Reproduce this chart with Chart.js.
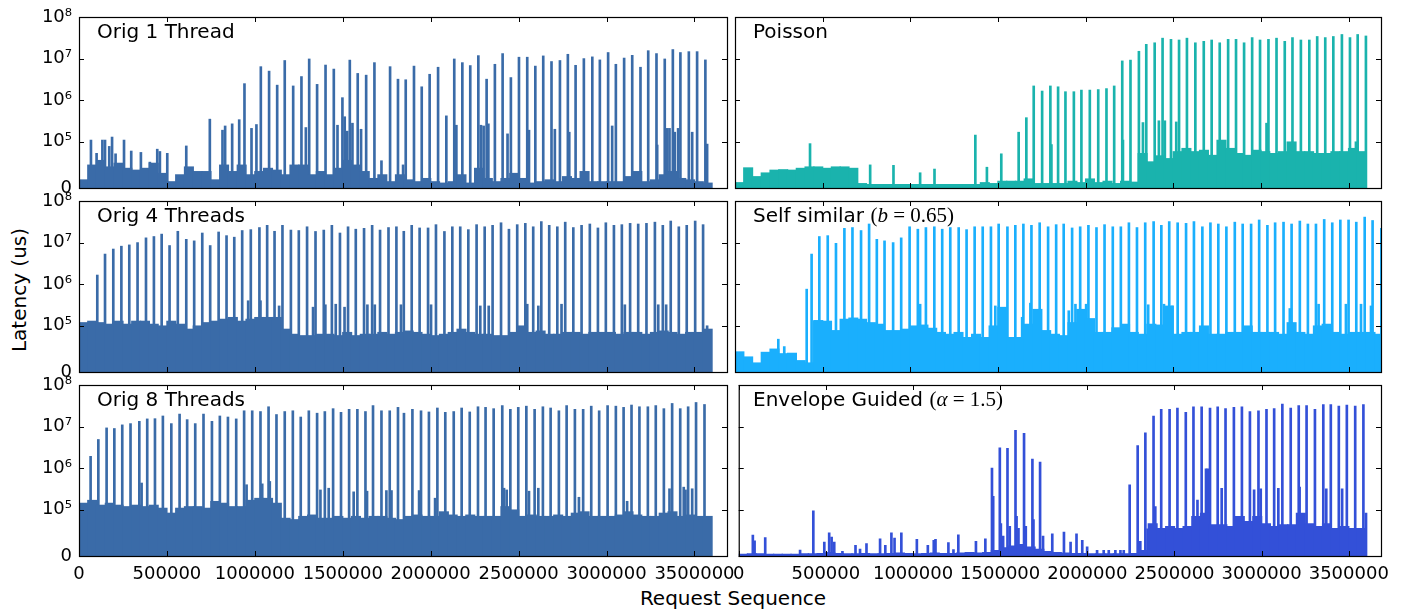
<!DOCTYPE html>
<html>
<head>
<meta charset="utf-8">
<script src="https://cdn.jsdelivr.net/npm/chart.js@4.4.0/dist/chart.umd.min.js"></script>
<style>
  body { margin: 0; background: #fff; width: 1408px; height: 614px; overflow: hidden; position: relative; font-family: "DejaVu Sans", sans-serif; }
  canvas { position: absolute; }
  .ttl { position: absolute; font-size: 20px; line-height: 20px; color: #000; white-space: nowrap; }
  .m { font-family: "Liberation Serif", serif; font-size: 21px; }
  .lbl { position: absolute; font-size: 20px; line-height: 1; color: #000; white-space: nowrap; transform: translate(-50%, -50%); }
</style>
</head>
<body>
<div class="lbl" style="left:19px;top:290px;transform:translate(-50%,-50%) rotate(-90deg)">Latency (us)</div>
<div class="lbl" style="left:733px;top:598px">Request Sequence</div>
<script>
// axes
const xTicks = [0, 500000, 1000000, 1500000, 2000000, 2500000, 3000000, 3500000]
const yTickValues = [0, 1e5, 1e6, 1e7, 1e8]
const yTickLabels = ['0', '10⁵', '10⁶', '10⁷', '10⁸']
const xMax = 3685000
const noiseStep = 50000   // background latency read per 50k requests

// Orig 1 Thread: [request, latency us]
const orig1Spikes = [
  [68e3,1.1e5],[100e3,7.5e4],[133e3,1.1e5],[148e3,1.1e5],[172e3,9e4],[188e3,1.3e5],[208e3,7.4e4],[256e3,1.1e5],
  [297e3,8e4],[352e3,7.7e4],[403e3,5.6e4],[445e3,8.4e4],[460e3,7.9e4],[502e3,7.5e4],[610e3,9.1e4],[744e3,3.5e5],
  [816e3,1.9e5],[831e3,2.4e5],[871e3,2.7e5],[911e3,3.4e5],[941e3,2.5e6],[981e3,2.1e5],[1009e3,2.6e5],[1034e3,6.4e6],
  [1081e3,5.0e6],[1127e3,2.3e6],[1170e3,9.0e6],[1218e3,2.2e6],[1265e3,3.7e6],[1290e3,2.2e5],[1309e3,9.8e6],[1354e3,2.4e6],
  [1402e3,7.0e6],[1449e3,5.6e6],[1470e3,2.5e5],[1498e3,1.15e6],[1511e3,4.0e5],[1525e3,1.8e5],[1540e3,9.2e6],[1555e3,2.8e5],
  [1585e3,4.4e6],[1604e3,2.0e5],[1633e3,4.0e6],[1680e3,8.0e6],[1720e3,5.9e4],[1769e3,6.4e6],[1814e3,3.2e6],[1843e3,5e4],
  [1858e3,3.1e6],[1905e3,6.6e6],[1949e3,2.1e6],[1994e3,4.2e6],[2042e3,6.2e6],[2089e3,4.2e5],[2134e3,9.8e6],[2146e3,2.5e5],
  [2180e3,8.0e6],[2225e3,6.8e6],[2271e3,1.18e7],[2286e3,2.5e5],[2301e3,2.4e5],[2318e3,3.2e6],[2328e3,2.7e5],[2365e3,7.3e6],
  [2409e3,1.32e7],[2437e3,1.55e5],[2456e3,3.5e6],[2502e3,1.08e7],[2549e3,1.08e7],[2559e3,1.9e5],[2595e3,6.6e6],[2640e3,1.16e7],
  [2687e3,8.5e6],[2706e3,2.0e5],[2735e3,9.0e6],[2780e3,1.27e7],[2788e3,1.7e5],[2824e3,6.9e6],[2871e3,1.0e7],[2919e3,1.1e7],
  [2962e3,9.3e6],[3009e3,1.4e7],[3032e3,2.4e5],[3053e3,7.3e6],[3100e3,1.03e7],[3146e3,1.2e7],[3193e3,6.2e6],[3237e3,1.55e7],
  [3284e3,1.32e7],[3288e3,9.3e4],[3331e3,9.8e6],[3345e3,2.1e5],[3358e3,2.1e5],[3377e3,1.65e7],[3388e3,1.7e5],[3407e3,2.1e5],
  [3420e3,1.4e7],[3468e3,1.47e7],[3487e3,1.7e5],[3515e3,1.47e7],[3562e3,9.3e6],[3572e3,9.5e4]
]
const orig1Noise = [
  1.8e4,5e4,6e4,4.6e4,5.4e4,4.3e4,3.9e4,4.3e4,5.4e4,3.2e4,
  1.4e4,2.9e4,4.6e4,3.6e4,3.6e4,1.8e4,5e4,3.6e4,5e4,2.9e4,
  3.6e4,4.3e4,3.9e4,2.9e4,5e4,5e4,2.9e4,3.6e4,2.9e4,4.3e4,
  6e4,5e4,3.6e4,2.1e4,2.9e4,1.4e4,2.9e4,1.8e4,1.4e4,2.1e4,
  1.4e4,1.1e4,1.4e4,2.9e4,1.1e4,4.3e4,2.1e4,1.4e4,2.1e4,3.2e4,
  2.1e4,1.1e4,1.4e4,1.8e4,1.4e4,2.5e4,2.1e4,3.6e4,1.4e4,1.4e4,
  1.4e4,1.4e4,2.5e4,3.6e4,1.4e4,1.8e4,2.9e4,3.6e4,2.1e4,1.8e4,
  1.4e4,1.1e4
]

// Orig 4 Threads
const orig4Spikes = [
  [104e3,1.66e6],[148e3,5.3e6],[195e3,7.0e6],[241e3,8.2e6],[286e3,8.8e6],[333e3,1.0e7],[381e3,1.3e7],[426e3,1.4e7],
  [470e3,1.6e7],[515e3,8.5e6],[562e3,1.87e7],[610e3,1.2e7],[655e3,1.1e7],[701e3,1.7e7],[746e3,8.5e6],[794e3,1.8e7],
  [839e3,1.47e7],[883e3,1.35e7],[928e3,1.95e7],[962e3,4e5],[977e3,2.05e7],[1026e3,2.3e7],[1032e3,4e5],[1070e3,2.6e7],
  [1112e3,1.87e7],[1138e3,3e5],[1157e3,2.6e7],[1205e3,2.0e7],[1250e3,1.95e7],[1297e3,2.4e7],[1331e3,2.8e5],[1345e3,1.85e7],
  [1392e3,2.0e7],[1401e3,3.2e5],[1438e3,2.6e7],[1460e3,3.3e5],[1484e3,1.7e7],[1510e3,2.8e5],[1530e3,2.4e7],[1574e3,2.1e7],
  [1621e3,2.2e7],[1640e3,3.2e5],[1667e3,2.6e7],[1682e3,3.2e5],[1712e3,2.0e7],[1760e3,2.3e7],[1805e3,2.4e7],[1831e3,3.2e5],
  [1847e3,1.87e7],[1892e3,2.6e7],[1937e3,2.25e7],[1985e3,2.25e7],[2002e3,3.2e5],[2030e3,2.7e7],[2078e3,1.85e7],[2123e3,2.4e7],
  [2168e3,2.4e7],[2214e3,2.05e7],[2261e3,2.7e7],[2282e3,3e5],[2307e3,2.4e7],[2330e3,3e5],[2352e3,2.6e7],[2400e3,3.0e7],
  [2445e3,2.1e7],[2492e3,2.7e7],[2538e3,2.9e7],[2549e3,3.3e5],[2583e3,2.4e7],[2612e3,3e5],[2629e3,3.2e7],[2674e3,2.6e7],
  [2720e3,2.4e7],[2744e3,3.3e5],[2765e3,3.1e7],[2811e3,2.3e7],[2858e3,2.6e7],[2905e3,2.8e7],[2951e3,2.25e7],[2996e3,3.0e7],
  [3042e3,2.6e7],[3087e3,2.7e7],[3104e3,3.2e5],[3134e3,2.9e7],[3180e3,2.8e7],[3227e3,2.9e7],[3275e3,3.1e7],[3294e3,3.2e5],
  [3320e3,2.6e7],[3339e3,3.2e5],[3365e3,3.3e7],[3411e3,2.4e7],[3456e3,2.6e7],[3504e3,3.3e7],[3549e3,2.7e7],[3572e3,1e5]
]
const orig4Noise = [
  1.2e5,1.3e5,1.2e5,1.1e5,1.3e5,1.1e5,1.3e5,1.3e5,1.1e5,1.0e5,
  1.3e5,1.1e5,9.3e4,1.0e5,1.2e5,1.3e5,1.45e5,1.6e5,1.3e5,1.45e5,
  1.6e5,1.6e5,1.6e5,9.3e4,8.2e4,7.9e4,7.9e4,8.2e4,8.2e4,7.9e4,
  8.6e4,7.9e4,8.2e4,8.2e4,8.6e4,8.2e4,8.6e4,8.9e4,8.6e4,8.2e4,
  7.9e4,8.2e4,8.6e4,9.3e4,8.6e4,8.2e4,8.2e4,7.9e4,7.9e4,8.6e4,
  1.0e5,8.6e4,8.9e4,8.2e4,8.2e4,8.6e4,8.6e4,8.2e4,8.6e4,8.6e4,
  8.6e4,8.2e4,8.6e4,8.6e4,8.2e4,8.6e4,8.9e4,8.6e4,8.2e4,8.6e4,
  8.6e4,9.3e4
]

// Orig 8 Threads
const orig8Spikes = [
  [66e3,1.93e6],[110e3,4.9e6],[157e3,9.3e6],[201e3,9.0e6],[246e3,1.1e7],[293e3,1.18e7],[343e3,1.34e7],[356e3,4.4e5],
  [388e3,1.53e7],[432e3,1.55e7],[477e3,1.8e7],[525e3,1.18e7],[572e3,2.0e7],[615e3,1.47e7],[661e3,1.18e7],[708e3,2.0e7],
  [756e3,1.34e7],[801e3,1.8e7],[847e3,1.7e7],[894e3,1.53e7],[939e3,2.4e7],[953e3,4e5],[985e3,2.4e7],[1032e3,2.3e7],
  [1042e3,4.2e5],[1078e3,3.0e7],[1085e3,4.8e5],[1123e3,1.95e7],[1170e3,2.3e7],[1216e3,2.4e7],[1261e3,1.7e7],[1307e3,2.4e7],
  [1354e3,2.1e7],[1373e3,3e5],[1398e3,2.3e7],[1420e3,3.3e5],[1445e3,2.7e7],[1490e3,2.2e7],[1536e3,2.6e7],[1562e3,2.7e5],
  [1583e3,2.6e7],[1629e3,2.3e7],[1638e3,2.8e5],[1672e3,3.2e7],[1720e3,2.4e7],[1748e3,2.9e5],[1767e3,2.4e7],[1777e3,2.9e5],
  [1814e3,2.9e7],[1848e3,2.1e7],[1896e3,2.6e7],[1934e3,2.9e5],[1945e3,2.4e7],[1990e3,2.25e7],[2025e3,1.9e5],[2038e3,2.8e7],
  [2083e3,2.2e7],[2131e3,2.3e7],[2176e3,2.8e7],[2222e3,2.25e7],[2269e3,3.0e7],[2312e3,2.9e7],[2358e3,2.7e7],[2407e3,3.2e7],
  [2417e3,3.3e5],[2432e3,3e5],[2453e3,2.6e7],[2498e3,2.9e7],[2544e3,3.1e7],[2559e3,2.8e5],[2591e3,2.6e7],[2612e3,3.3e5],
  [2638e3,3.0e7],[2682e3,2.8e7],[2729e3,2.4e7],[2773e3,3.2e7],[2820e3,2.6e7],[2843e3,2e5],[2867e3,2.6e7],[2913e3,3.1e7],
  [2958e3,2.4e7],[3006e3,3.2e7],[3053e3,3.1e7],[3097e3,2.9e7],[3117e3,1.6e5],[3142e3,3.3e7],[3187e3,3.0e7],[3235e3,3.0e7],
  [3280e3,3.2e7],[3326e3,2.7e7],[3358e3,3.2e5],[3373e3,3.6e7],[3419e3,2.7e7],[3439e3,3.5e5],[3449e3,3e5],[3464e3,3.0e7],
  [3487e3,3.2e5],[3509e3,3.8e7],[3557e3,3.4e7]
]
const orig8Noise = [
  1.45e5,1.7e5,1.3e5,1.45e5,1.3e5,1.2e5,1.3e5,1.2e5,1.3e5,1.1e5,
  9.3e4,1.1e5,1.2e5,1.2e5,1.1e5,1.6e5,1.45e5,1.2e5,1.2e5,1.7e5,
  1.9e5,1.9e5,1.45e5,8.2e4,7.9e4,8.6e4,8.9e4,8.2e4,8.2e4,8.6e4,
  8.2e4,8.6e4,8.2e4,8.6e4,8.6e4,8.2e4,7.9e4,8.6e4,8.9e4,8.6e4,
  8.6e4,9.6e4,8.9e4,8.6e4,8.9e4,8.6e4,8.6e4,8.6e4,1.2e5,1.0e5,
  8.6e4,8.9e4,8.6e4,8.6e4,8.9e4,8.6e4,9.3e4,9.6e4,8.6e4,8.6e4,
  8.6e4,8.9e4,9.6e4,8.9e4,8.6e4,8.6e4,9.3e4,9.6e4,8.6e4,8.9e4,
  8.6e4,8.6e4
]

// Poisson
const poissonSpikes = [
  [428e3,9.6e4],[771e3,5e4],[904e3,4.9e4],[1056e3,3.3e4],[1138e3,4.1e4],[1371e3,1.45e5],[1437e3,4.5e4],[1519e3,7.4e4],
  [1618e3,1.7e5],[1662e3,3.8e5],[1704e3,2.2e6],[1752e3,1.66e6],[1799e3,2.2e6],[1805e3,9.4e4],[1843e3,2.1e6],[1885e3,1.6e6],
  [1933e3,1.6e6],[1976e3,1.75e6],[2024e3,1.75e6],[2072e3,1.8e6],[2119e3,1.9e6],[2163e3,2.2e6],[2209e3,8.8e6],[2213e3,1.1e5],
  [2256e3,9.2e6],[2304e3,1.5e7],[2327e3,2.9e5],[2346e3,2.2e7],[2394e3,2.4e7],[2418e3,3.2e5],[2439e3,3.1e7],[2452e3,3.2e5],
  [2487e3,2.9e7],[2517e3,3e5],[2533e3,2.8e7],[2578e3,3.1e7],[2626e3,2.4e7],[2674e3,2.6e7],[2719e3,2.8e7],[2765e3,2.4e7],
  [2813e3,2.9e7],[2858e3,2.9e7],[2904e3,2.4e7],[2950e3,3.2e7],[2995e3,2.8e7],[3032e3,2.8e5],[3043e3,2.9e7],[3089e3,3.1e7],
  [3136e3,2.6e7],[3180e3,3.2e7],[3228e3,2.8e7],[3276e3,2.8e7],[3321e3,3.4e7],[3367e3,3.2e7],[3413e3,3.4e7],[3462e3,3.8e7],
  [3508e3,3.2e7],[3542e3,1e5],[3552e3,3.8e7],[3599e3,3.5e7]
]
const poissonNoise = [
  1.2e4,4.4e4,2.5e4,3.3e4,3.9e4,4.0e4,3.9e4,4.3e4,4.6e4,4.6e4,
  4.3e4,4.6e4,4.6e4,4.3e4,1.0e4,8e3,8e3,8e3,8e3,8e3,
  8e3,8e3,8e3,8e3,8e3,8e3,8e3,8e3,1.2e4,1.0e4,
  1.5e4,1.5e4,1.5e4,2.0e4,1.0e4,1.0e4,1.0e4,1.0e4,1.5e4,1.2e4,
  2e4,1.2e4,1.5e4,1.0e4,1.5e4,1.3e4,7.5e4,5.7e4,7e4,6.4e4,
  7.9e4,8.6e4,7.9e4,8.2e4,7.1e4,1.1e5,8.6e4,7.5e4,7.1e4,8.2e4,
  7.9e4,7.5e4,7.9e4,1.0e5,7.9e4,7.9e4,7.5e4,7.5e4,7.9e4,7.9e4,
  8.6e4,7.9e4
]

// Self similar (b = 0.65)
const selfSpikes = [
  [247e3,7.1e4],[281e3,5.5e4],[409e3,7.6e5],[437e3,5.3e6],[453e3,1.3e5],[481e3,1.4e7],[529e3,1.47e7],[576e3,9.6e6],
  [624e3,2.2e7],[670e3,2.3e7],[719e3,1.95e7],[765e3,2.8e7],[809e3,1.2e7],[853e3,1.1e7],[902e3,1.0e7],[948e3,1.3e7],
  [996e3,2.4e7],[1043e3,2.1e7],[1056e3,3.3e5],[1089e3,2.3e7],[1137e3,2.4e7],[1182e3,2.1e7],[1228e3,2.3e7],[1276e3,2.3e7],
  [1321e3,2.05e7],[1367e3,2.4e7],[1413e3,2.4e7],[1460e3,2.4e7],[1485e3,3e5],[1504e3,2.8e7],[1554e3,2.4e7],[1599e3,2.6e7],
  [1638e3,1.6e5],[1645e3,2.8e7],[1685e3,3.5e5],[1691e3,2.6e7],[1738e3,3.0e7],[1786e3,2.4e7],[1832e3,2.7e7],[1875e3,2.8e7],
  [1904e3,2.3e5],[1923e3,2.25e7],[1942e3,3.3e5],[1969e3,2.4e7],[2003e3,3.3e5],[2016e3,2.6e7],[2062e3,2.3e7],[2108e3,2.7e7],
  [2155e3,2.4e7],[2201e3,2.4e7],[2247e3,3.0e7],[2293e3,2.3e7],[2340e3,3.0e7],[2357e3,3.2e5],[2388e3,3.2e7],[2432e3,2.6e7],
  [2447e3,3.3e5],[2477e3,3.2e7],[2494e3,3e5],[2525e3,3.0e7],[2573e3,2.9e7],[2618e3,3.2e7],[2666e3,2.4e7],[2712e3,3.0e7],
  [2757e3,2.8e7],[2803e3,2.4e7],[2851e3,3.1e7],[2896e3,2.8e7],[2944e3,2.8e7],[2990e3,3.5e7],[3037e3,2.6e7],[3081e3,3.0e7],
  [3129e3,3.1e7],[3165e3,2.6e5],[3175e3,2.8e7],[3222e3,3.3e7],[3268e3,2.8e7],[3314e3,2.8e7],[3329e3,3.3e5],[3361e3,3.6e7],
  [3407e3,3.0e7],[3453e3,3.5e7],[3485e3,3.3e5],[3500e3,3.5e7],[3544e3,3.1e7],[3571e3,3.3e5],[3592e3,4.1e7],[3628e3,3e5],
  [3637e3,3.4e7],[3687e3,2.2e7]
]
const selfNoise = [
  4.4e4,3.3e4,2.0e4,4.3e4,5.0e4,4.0e4,4.1e4,2.5e4,2e4,1.35e5,
  1.3e5,9e4,1.45e5,1.55e5,1.45e5,1.2e5,1.1e5,9e4,9e4,9.3e4,
  1.0e5,1.05e5,9.5e4,8.6e4,8.2e4,8.6e4,7.5e4,8.2e4,7.5e4,1.0e5,
  2.8e5,7.5e4,7.5e4,1.1e5,2.5e5,9e4,8.2e4,7.9e4,1.2e5,2.5e5,
  1.5e5,8.6e4,8.6e4,9.6e4,1.1e5,8.6e4,8.2e4,1.1e5,1.05e5,3.0e5,
  8.2e4,8.6e4,8.6e4,1.0e5,8.2e4,8.2e4,8.6e4,8.6e4,1.0e5,8.6e4,
  8.6e4,8.6e4,8.2e4,1.2e5,8.6e4,8.2e4,1.0e5,1.1e5,8.6e4,8.2e4,
  8.6e4,8.6e4,8.6e4,8.2e4
]

// Envelope Guided (alpha = 1.5)
const envSpikes = [
  [81e3,4.5e4],[91e3,3.3e4],[152e3,4e4],[352e3,1.3e4],[428e3,9.8e4],[491e3,3e4],[519e3,5e4],[533e3,4.1e4],
  [548e3,3e4],[595e3,1e4],[670e3,2.3e4],[696e3,1.5e4],[733e3,2.7e4],[811e3,3.7e4],[841e3,2.3e4],[876e3,5e4],
  [894e3,3.9e4],[933e3,5e4],[1022e3,3.6e4],[1085e3,2.3e4],[1119e3,3.4e4],[1129e3,3.6e4],[1203e3,2.9e4],[1232e3,1.4e4],
  [1260e3,4.6e4],[1361e3,3.2e4],[1415e3,3.7e4],[1453e3,1e6],[1460e3,2.1e5],[1498e3,3.1e6],[1504e3,7e4],[1517e3,4.3e4],
  [1542e3,3e6],[1555e3,6.4e4],[1588e3,8.1e6],[1594e3,8.6e4],[1605e3,6e4],[1637e3,6.9e6],[1647e3,6.4e4],[1685e3,1.66e6],
  [1691e3,7.9e4],[1729e3,1.4e6],[1746e3,4.3e4],[1799e3,4.8e4],[1866e3,5.2e4],[1904e3,3e4],[1938e3,4.8e4],[1971e3,3.4e4],
  [1999e3,2e4],[2056e3,1.2e4],[2094e3,1.2e4],[2123e3,1.2e4],[2161e3,1.2e4],[2190e3,1.2e4],[2209e3,1.2e4],[2243e3,4e5],
  [2289e3,3.5e6],[2304e3,3.2e4],[2333e3,7.1e6],[2346e3,5.9e4],[2380e3,1.8e7],[2390e3,1.2e5],[2424e3,2.6e7],[2472e3,2.6e7],
  [2517e3,2.8e7],[2565e3,2.2e7],[2609e3,3.0e7],[2632e3,1.7e5],[2656e3,3.0e7],[2681e3,9.6e5],[2691e3,9.6e5],[2704e3,2.8e7],
  [2748e3,3.0e7],[2771e3,3.3e5],[2793e3,2.7e7],[2841e3,2.9e7],[2887e3,3.0e7],[2933e3,2.3e7],[2957e3,3e5],[2982e3,2.4e7],
  [2995e3,3.2e5],[3028e3,2.6e7],[3072e3,2.7e7],[3096e3,3.3e5],[3119e3,3.5e7],[3167e3,2.8e7],[3213e3,3.2e7],[3218e3,3.5e5],
  [3258e3,3.2e7],[3306e3,2.6e7],[3354e3,3.4e7],[3371e3,3.2e5],[3397e3,3.4e7],[3443e3,3.1e7],[3462e3,3.2e5],[3489e3,3.3e7],
  [3537e3,3.1e7],[3584e3,3.4e7],[3599e3,9.3e4]
]
const envNoise = [
  4e3,5e3,5e3,4e3,4e3,4e3,4e3,5e3,5e3,6e3,
  8e3,6e3,5e3,5e3,6e3,5e3,5e3,6e3,7e3,6e3,
  5e3,6e3,7e3,6e3,6e3,7e3,8e3,7e3,8e3,1.2e4,
  1.8e4,2.2e4,2.5e4,2.0e4,1.5e4,1.0e4,8e3,7e3,6e3,6e3,
  5e3,5e3,5e3,5e3,5e3,6e3,1.2e4,7e4,6e4,6.4e4,
  6e4,6.4e4,8.6e4,9.3e4,6.8e4,6.8e4,6.4e4,8.6e4,7.5e4,8.6e4,
  7e4,6.4e4,6.8e4,6.8e4,9.3e4,7e4,6.4e4,7e4,6e4,6.4e4,
  6e4,6e4
]

// symlog like matplotlib: linthresh 1e5, linscale 1
const LIN = 1 / (1 - 0.1)
function sym(v) {
  return v <= 1e5 ? v / 1e5 * LIN : LIN + Math.log10(v / 1e5)
}

const panels = [
  { title: 'Orig 1 Thread', spikes: orig1Spikes, noise: orig1Noise, color: '#3a6ba8', col: 0, row: 0 },
  { title: 'Orig 4 Threads', spikes: orig4Spikes, noise: orig4Noise, color: '#3a6ba8', col: 0, row: 1 },
  { title: 'Orig 8 Threads', spikes: orig8Spikes, noise: orig8Noise, color: '#3a6ba8', col: 0, row: 2 },
  { title: 'Poisson', spikes: poissonSpikes, noise: poissonNoise, color: '#1ab3ad', col: 1, row: 0 },
  { title: 'Self similar <span class="m">(<i>b</i> = 0.65)</span>', spikes: selfSpikes, noise: selfNoise, color: '#1aaffd', col: 1, row: 1 },
  { title: 'Envelope Guided <span class="m">(<i>α</i> = 1.5)</span>', spikes: envSpikes, noise: envNoise, color: '#3350d8', col: 1, row: 2 }
]

const colLeft = [79, 735], colRight = [727, 1381]
const rowTop = [17, 201, 385], plotH = 171

// box + inward ticks on all four sides
const framePlugin = {
  id: 'frame',
  afterDraw(chart) {
    const { ctx, chartArea: a, scales: { x, y } } = chart
    ctx.save()
    ctx.strokeStyle = '#000'
    ctx.lineWidth = 1
    ctx.beginPath()
    xTicks.forEach(v => {
      const px = Math.round(x.getPixelForValue(v)) + 0.5
      ctx.moveTo(px, a.top); ctx.lineTo(px, a.top + 5)
      ctx.moveTo(px, a.bottom); ctx.lineTo(px, a.bottom - 5)
    })
    yTickValues.forEach(v => {
      const py = Math.round(y.getPixelForValue(sym(v))) + 0.5
      ctx.moveTo(a.left, py); ctx.lineTo(a.left + 5, py)
      ctx.moveTo(a.right, py); ctx.lineTo(a.right - 5, py)
    })
    ctx.stroke()
    ctx.lineWidth = 1.2
    ctx.strokeRect(a.left + 0.5, a.top + 0.5, a.right - a.left, a.bottom - a.top)
    ctx.restore()
  }
}

const tickFont = { family: 'DejaVu Sans', size: 18 }

panels.forEach(p => {
  const yw = p.col === 0 ? 79 : 10
  const padR = p.col === 0 ? 40 : 24
  const padT = 22
  const xh = p.row === 2 ? 34 : 22
  const left = colLeft[p.col] - yw
  const top = rowTop[p.row] - padT
  const w = colRight[p.col] + padR - left
  const h = padT + plotH + xh

  const cv = document.createElement('canvas')
  cv.width = w
  cv.height = h
  cv.style.left = left + 'px'
  cv.style.top = top + 'px'
  cv.style.width = w + 'px'
  cv.style.height = h + 'px'
  document.body.appendChild(cv)

  const t = document.createElement('div')
  t.className = 'ttl'
  t.style.left = (colLeft[p.col] + 18) + 'px'
  t.style.top = (rowTop[p.row] + 4) + 'px'
  t.innerHTML = p.title
  document.body.appendChild(t)

  new Chart(cv, {
    type: 'bar',
    data: {
      datasets: [
        {
          data: p.noise.map((v, i) => ({ x: (i + 0.5) * noiseStep, y: sym(v) })),
          backgroundColor: p.color, barThickness: 9.4, grouped: false
        },
        {
          data: p.spikes.map(([x, v]) => ({ x, y: sym(v) })),
          backgroundColor: p.color, barThickness: 2, grouped: false
        }
      ]
    },
    options: {
      responsive: false,
      animation: false,
      layout: { padding: { top: padT, right: padR, left: 0, bottom: 0 } },
      plugins: { legend: { display: false }, tooltip: { enabled: false } },
      scales: {
        x: {
          type: 'linear', min: 0, max: xMax, offset: false,
          grid: { display: false, drawTicks: false }, border: { display: false },
          afterBuildTicks: s => { s.ticks = xTicks.map(v => ({ value: v })) },
          afterFit: s => { s.height = xh },
          ticks: {
            display: p.row === 2, autoSkip: false, maxRotation: 0, minRotation: 0,
            padding: 8, color: '#000', font: tickFont, callback: v => String(v)
          }
        },
        y: {
          type: 'linear', min: 0, max: sym(1e8),
          grid: { display: false, drawTicks: false }, border: { display: false },
          afterBuildTicks: s => { s.ticks = yTickValues.map(v => ({ value: sym(v) })) },
          afterFit: s => { s.width = yw },
          ticks: {
            display: p.col === 0, padding: 7, color: '#000', font: tickFont,
            callback: (v, i) => yTickLabels[i]
          }
        }
      }
    },
    plugins: [framePlugin]
  })
})
</script>
</body>
</html>
